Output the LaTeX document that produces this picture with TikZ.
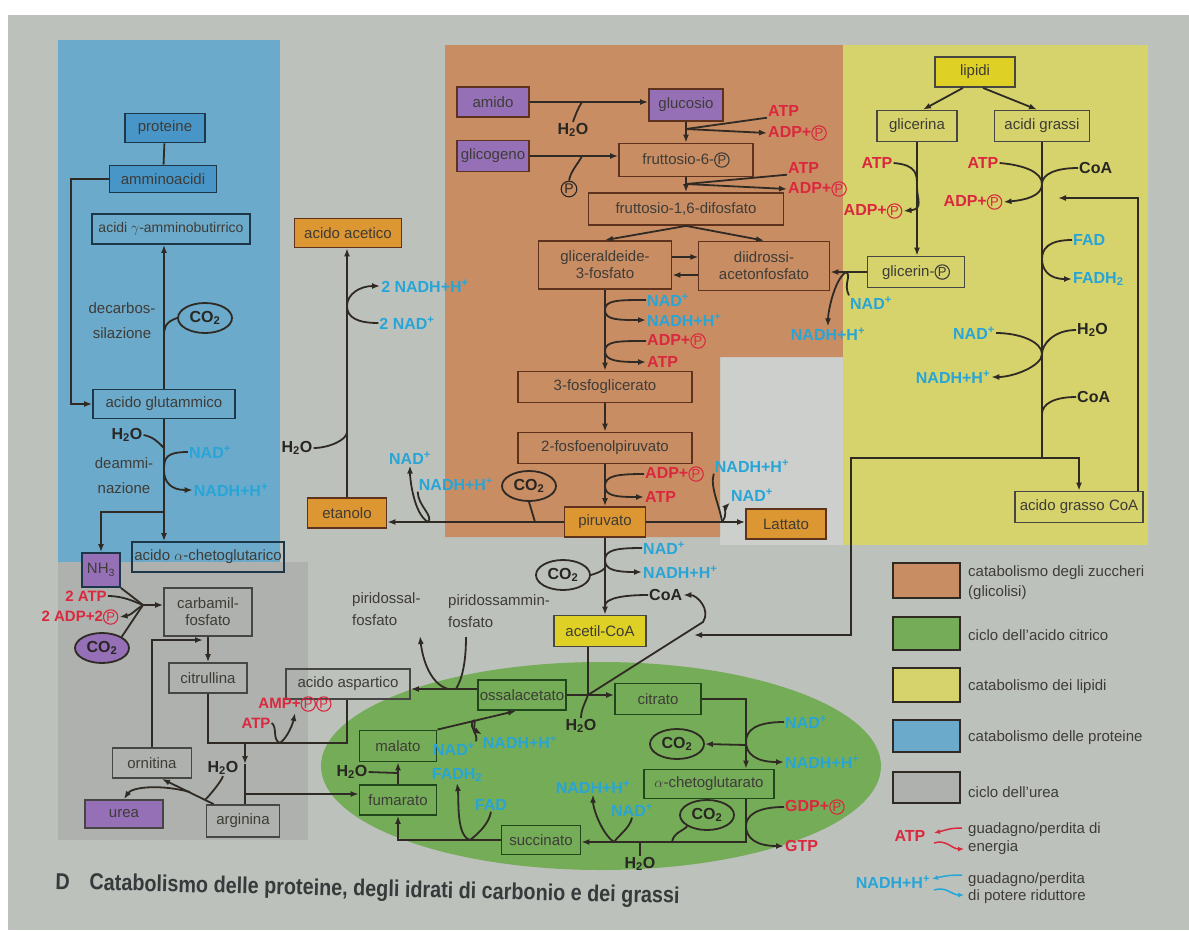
\documentclass[tikz,border=0pt]{standalone}
\usepackage{fontspec}
\setmainfont{Liberation Sans}
\newfontfamily\capfont{Liberation Sans}[FakeStretch=0.86]
\usetikzlibrary{arrows.meta,shapes.geometric,calc}
\definecolor{paper}{RGB}{189,193,188}
\definecolor{paperlt}{RGB}{204,207,203}
\definecolor{bluereg}{RGB}{108,170,203}
\definecolor{bluebox}{RGB}{72,150,200}
\definecolor{orangereg}{RGB}{201,141,100}
\definecolor{orangebox}{RGB}{220,150,50}
\definecolor{yellowreg}{RGB}{214,210,108}
\definecolor{yellowbox}{RGB}{222,208,36}
\definecolor{purplebox}{RGB}{150,112,182}
\definecolor{greenreg}{RGB}{116,172,88}
\definecolor{ureareg}{RGB}{174,177,173}
\definecolor{lc}{RGB}{48,42,36}
\definecolor{atpred}{RGB}{218,40,62}
\definecolor{nadblue}{RGB}{40,165,215}
\definecolor{txtc}{RGB}{62,60,55}
\definecolor{txtk}{RGB}{40,38,34}
\definecolor{cboxO}{RGB}{95,50,30}
\definecolor{cboxB}{RGB}{30,55,72}
\definecolor{cboxG}{RGB}{32,70,28}
\definecolor{cboxU}{RGB}{70,70,68}
\definecolor{captxt}{RGB}{55,58,58}
\newcommand\cP[1][txtc]{\tikz[baseline=(cpn.base)]\node[shape=circle,draw=#1,text=#1,fill=none,line width=1.1pt,inner sep=0.7pt,outer sep=0pt,minimum size=0pt,anchor=center,font=\normalfont\fontsize{13}{13}\selectfont](cpn){P};}
\newcommand\cPbig[1][txtc]{\tikz[baseline=(cpn.base)]\node[shape=circle,draw=#1,text=#1,fill=none,line width=1.1pt,inner sep=0.8pt,outer sep=0pt,minimum size=0pt,anchor=center,font=\normalfont\fontsize{14}{14}\selectfont](cpn){P};}
\tikzset{
 box/.style={draw=cboxO, line width=1.8pt, inner sep=2pt, text=txtc, font=\fontsize{15}{17}\selectfont, minimum height=30pt, align=center},
 bxB/.style={draw=cboxB}, bxG/.style={draw=cboxG}, bxU/.style={draw=cboxU},
 ln/.style={draw=lc, line width=1.8pt},
 arr/.style={ln, -{Latex[length=8pt,width=6pt]}},
 rl/.style={text=atpred, font=\bfseries\fontsize{16}{16}\selectfont, inner sep=1pt},
 bl/.style={text=nadblue, font=\bfseries\fontsize{16}{16}\selectfont, inner sep=1pt},
 kl/.style={text=txtk, font=\bfseries\fontsize{16}{16}\selectfont, inner sep=1pt},
 gl/.style={text=txtc, font=\fontsize{15}{17}\selectfont, inner sep=1pt},
 ell/.style={ellipse, draw=lc, line width=1.8pt, minimum width=54pt, minimum height=30pt, inner sep=0pt, text=txtk, font=\bfseries\fontsize{16}{16}\selectfont},
 lgt/.style={text=txtc, font=\fontsize{15}{17}\selectfont, anchor=west, inner sep=0pt},
}
\begin{document}
\begin{tikzpicture}[x=1pt,y=-1pt]
\useasboundingbox (0,0) rectangle (1189,930);
\fill[white] (0,0) rectangle (1189,930);
\fill[paper] (8,15) rectangle (1189,930);
% regions
\fill[bluereg] (58,40) rectangle (280,562);
\fill[ureareg] (58,562) rectangle (308,840);
\fill[paperlt] (720,357) rectangle (843,545);
\fill[orangereg] (445,45) -- (843,45) -- (843,357) -- (720,357) -- (720,537) -- (445,537) -- cycle;
\fill[yellowreg] (843,45) rectangle (1148,545);
\fill[greenreg] (601,766) ellipse [x radius=280, y radius=104];
% legend swatches
\filldraw[draw=lc,line width=1.5pt,fill=orangereg] (893,563) rectangle (960,598);
\filldraw[draw=lc,line width=1.5pt,fill=greenreg] (893,617) rectangle (960,650);
\filldraw[draw=lc,line width=1.5pt,fill=yellowreg] (893,668) rectangle (960,702);
\filldraw[draw=lc,line width=1.5pt,fill=bluereg] (893,720) rectangle (960,752);
\filldraw[draw=lc,line width=1.5pt,fill=ureareg] (893,772) rectangle (960,803);
\node[lgt] (lg1) at (968,573) {catabolismo degli zuccheri};
\node[lgt] (lg1b) at (968,593) {(glicolisi)};
\node[lgt] (lg2) at (968,635) {ciclo dell'acido citrico};
\node[lgt] (lg3) at (968,687) {catabolismo dei lipidi};
\node[lgt] (lg4) at (968,738) {catabolismo delle proteine};
\node[lgt] (lg5) at (968,792) {ciclo dell'urea};
\node[lgt] (lg6) at (968,830) {guadagno/perdita di};
\node[lgt] (lg6b) at (968,848) {energia};
\node[lgt] (lg7) at (968,880) {guadagno/perdita};
\node[lgt] (lg7b) at (968,897) {di potere riduttore};
\node[rl] (lgatp) at (910,836) {ATP};
\coordinate (lgr1) at (962,828); \coordinate (lgr2) at (934,833);
\coordinate (lgr3) at (934,843); \coordinate (lgr4) at (964,849);
\draw[atpred,line width=1.5pt,-{Latex[length=6pt,width=5pt]}] (lgr1) .. controls +(-12,0) and +(12,-3) .. (lgr2);
\draw[atpred,line width=1.5pt,-{Latex[length=6pt,width=5pt]}] (lgr3) .. controls +(12,-4) and +(-12,0) .. (lgr4);
\node[bl] (lgnad) at (893,882) {NADH+H\textsuperscript{+}};
\coordinate (lgb1) at (962,875); \coordinate (lgb2) at (932,879);
\coordinate (lgb3) at (934,890); \coordinate (lgb4) at (964,895);
\draw[nadblue,line width=1.5pt,-{Latex[length=6pt,width=5pt]}] (lgb1) .. controls +(-12,0) and +(12,-3) .. (lgb2);
\draw[nadblue,line width=1.5pt,-{Latex[length=6pt,width=5pt]}] (lgb3) .. controls +(12,-4) and +(-12,0) .. (lgb4);
% caption
\node[text=captxt,font=\capfont\bfseries\fontsize{23}{23}\selectfont,anchor=west,rotate=-1.3] (capd) at (52,881) {D};
\node[text=captxt,font=\capfont\bfseries\fontsize{23}{23}\selectfont,anchor=west,rotate=-1.3] (cap) at (86,884) {Catabolismo delle proteine, degli idrati di carbonio e dei grassi};

% ===== proteins
\node[box,bxB,fill=bluebox,minimum width=80pt,minimum height=29pt] (prot) at (165,128) {proteine};
\node[box,bxB,fill=bluebox,minimum width=107pt,minimum height=27pt] (amm) at (163,179) {amminoacidi};
\node[box,bxB,minimum width=158pt,font=\fontsize{14}{15}\selectfont] (gaba) at (171,229) {acidi $\gamma$-amminobutirrico};
\node[box,bxB,minimum width=142pt,minimum height=29pt] (glu) at (164,404) {acido glutammico};
\node[box,bxB,minimum width=148pt] (akgp) at (208,557) {acido $\alpha$-chetoglutarico};
\node[box,bxB,fill=purplebox,minimum width=38pt,minimum height=34pt] (nh3) at (101,570) {NH\textsubscript{3}};
\node[ell] (co2a) at (205,318) {CO\textsubscript{2}};
\node[gl] (dc1) at (122,308) {decarbos-};
\node[gl] (dc2) at (122,333) {silazione};
\node[kl] (h2oa) at (127,435) {H\textsubscript{2}O};
\node[gl] (da1) at (124,463) {deammi-};
\node[gl] (da2) at (124,488) {nazione};
\node[bl] (nadp1) at (210,452) {NAD\textsuperscript{+}};
\node[bl] (nadh1) at (231,490) {NADH+H\textsuperscript{+}};
\draw[ln] (prot) -- (amm);
\draw[arr] (amm.west) -- ++(-38,0) |- (glu.west);
\draw[arr] (glu.north) -- (glu.north |- gaba.south);
\coordinate (pa) at (164,336);
\draw[ln] (co2a.west) .. controls +(-12,4) and +(0,-8) .. (pa);
\draw[arr] (glu.south) -- (glu.south |- akgp.north);
\coordinate (jb) at (164,512);
\draw[arr] (jb) -| (nh3.north);
\coordinate (jh) at (164,448);
\draw[ln] (h2oa.east) .. controls +(10,2) and +(-6,-6) .. (jh);
\coordinate (jn1) at (164,470);
\draw[ln] (nadp1.west) .. controls +(-22,0) and +(0,-12) .. (jn1);
\draw[arr] (jn1) .. controls +(0,12) and +(-22,0) .. (nadh1.west);

% ===== fermentation
\node[box,fill=orangebox,minimum width=107pt,minimum height=29pt] (acet) at (348,233) {acido acetico};
\node[box,fill=orangebox,minimum width=79pt] (etan) at (347,513) {etanolo};
\node[box,fill=orangebox,minimum width=80pt] (latt) at (786,524) {Lattato};
\node[box,fill=orangebox,minimum width=81pt] (piru) at (605,522) {piruvato};
\draw[arr] (etan.north) -- (etan.north |- acet.south);
\node[bl] (nadh2) at (425,286) {2 NADH+H\textsuperscript{+}};
\node[bl] (nad2) at (407,323) {2 NAD\textsuperscript{+}};
\coordinate (je) at (347,306);
\draw[ln] (nad2.west) .. controls +(-20,0) and +(0,12) .. (je);
\draw[arr] (je) .. controls +(0,-12) and +(-20,0) .. (nadh2.west);
\node[kl] (h2ob) at (297,448) {H\textsubscript{2}O};
\coordinate (jw) at (347,432);
\draw[ln] (h2ob.east) .. controls +(15,0) and +(0,8) .. (jw);
\draw[arr] (piru.west) -- (piru.west -| etan.east);
\node[ell] (co2b) at (529,486) {CO\textsubscript{2}};
\coordinate (jc) at (535,522);
\draw[ln] (co2b.south) -- (jc);
\node[bl] (nadp3) at (410,458) {NAD\textsuperscript{+}};
\node[bl] (nadh3) at (456,484) {NADH+H\textsuperscript{+}};
\coordinate (jd) at (428,522);
\draw[arr] (jd) .. controls +(-14,-8) and +(0,14) .. (nadp3.south);
\draw[ln] (nadh3.south west) .. controls +(0,14) and +(6,-6) .. (jd);
\draw[arr] (piru.east) -- (piru.east -| latt.west);
\node[bl] (nadh4) at (752,466) {NADH+H\textsuperscript{+}};
\node[bl] (nadp4) at (752,495) {NAD\textsuperscript{+}};
\coordinate (jl) at (722,522);
\draw[ln] (nadh4.south west) .. controls +(-4,14) and +(-2,-16) .. (jl);
\draw[arr] (jl) .. controls +(6,-8) and +(-6,6) .. (nadp4.south west);

% ===== glycolysis
\node[box,fill=purplebox,minimum width=72pt,minimum height=30pt] (amido) at (493,102) {amido};
\node[box,fill=purplebox,minimum width=72pt,minimum height=31pt] (glicog) at (493,156) {glicogeno};
\node[box,fill=purplebox,minimum width=74pt,minimum height=32pt] (gluc) at (686,105) {glucosio};
\node[box,minimum width=134pt,minimum height=33pt] (f6p) at (686,160) {fruttosio-6-\cP};
\node[box,minimum width=195pt,minimum height=32pt] (f16) at (686,209) {fruttosio-1,6-difosfato};
\draw[arr] (amido.east) -- (amido.east -| gluc.west);
\node[kl] (h2oc) at (573,130) {H\textsubscript{2}O};
\coordinate (jg1) at (582,102);
\draw[ln] (h2oc.north) .. controls +(2,-6) and +(-4,6) .. (jg1);
\draw[arr] (glicog.east) -- (glicog.east -| f6p.west);
\node[inner sep=0pt] (pgl) at (569,189) {\cPbig[txtk]};
\coordinate (jg2) at (582,156);
\draw[ln] (pgl.north) .. controls +(2,-10) and +(-4,8) .. (jg2);
\draw[arr] (gluc.south) -- (f6p.north);
\node[rl,anchor=west] (atp1) at (767,111) {ATP};
\node[rl,anchor=west] (adp1) at (767,133) {ADP+\cP[atpred]};
\coordinate (js1) at (686,129);
\draw[ln] (atp1.south west) -- (js1);
\draw[arr] (js1) -- (adp1.west);
\draw[arr] (f6p.south) -- (f16.north);
\node[rl,anchor=west] (atp2) at (787,168) {ATP};
\node[rl,anchor=west] (adp2) at (787,189) {ADP+\cP[atpred]};
\coordinate (js2) at (686,184);
\draw[ln] (atp2.south west) -- (js2);
\draw[arr] (js2) -- (adp2.west);
\node[box,minimum width=133pt,minimum height=48pt] (gap) at (605,265) {gliceraldeide-\\3-fosfato};
\node[box,minimum width=131pt,minimum height=49pt] (dhap) at (764,266) {diidrossi-\\acetonfosfato};
\draw[arr] (f16.south) -- (gap.north);
\draw[arr] (f16.south) -- (dhap.north);
\draw[arr] ($(gap.east)+(0,-8)$) -- ($(gap.east)+(26,-8)$);
\draw[arr] ($(gap.east)+(26,10)$) -- ($(gap.east)+(0,10)$);
\node[box,minimum width=174pt,minimum height=31pt] (pg3) at (605,387) {3-fosfoglicerato};
\node[box,minimum width=174pt,minimum height=31pt] (pep) at (605,448) {2-fosfoenolpiruvato};
\draw[arr] (gap.south) -- (pg3.north);
\node[bl,anchor=west] (nadp5) at (646,300) {NAD\textsuperscript{+}};
\node[bl,anchor=west] (nadh5) at (646,320) {NADH+H\textsuperscript{+}};
\node[rl,anchor=west] (adp5) at (646,341) {ADP+\cP[atpred]};
\node[rl,anchor=west] (atp5) at (646,362) {ATP};
\coordinate (jg3) at (605,310);
\draw[ln] (nadp5.west) .. controls +(-28,0) and +(0,-10) .. (jg3);
\draw[arr] (jg3) .. controls +(0,10) and +(-28,0) .. (nadh5.west);
\coordinate (jg4) at (605,351);
\draw[ln] (adp5.west) .. controls +(-28,0) and +(0,-10) .. (jg4);
\draw[arr] (jg4) .. controls +(0,10) and +(-28,0) .. (atp5.west);
\draw[arr] (pg3.south) -- (pep.north);
\draw[arr] (pep.south) -- (piru.north);
\node[rl,anchor=west] (adp6) at (644,474) {ADP+\cP[atpred]};
\node[rl,anchor=west] (atp6) at (644,497) {ATP};
\coordinate (jg5) at (605,486);
\draw[ln] (adp6.west) .. controls +(-28,0) and +(0,-10) .. (jg5);
\draw[arr] (jg5) .. controls +(0,10) and +(-28,0) .. (atp6.west);

% ===== pyruvate to acetyl-CoA
\node[box,bxU,fill=yellowbox,minimum width=92pt,minimum height=31pt] (acoa) at (600,631) {acetil-CoA};
\draw[arr] (piru.south) -- (piru.south |- acoa.north);
\node[bl,anchor=west] (nadp6) at (642,548) {NAD\textsuperscript{+}};
\node[bl,anchor=west] (nadh6) at (642,572) {NADH+H\textsuperscript{+}};
\coordinate (jp1) at (605,560);
\draw[ln] (nadp6.west) .. controls +(-26,0) and +(0,-10) .. (jp1);
\draw[arr] (jp1) .. controls +(0,10) and +(-26,0) .. (nadh6.west);
\node[ell] (co2c) at (563,575) {CO\textsubscript{2}};
\coordinate (jp2) at (605,568);
\draw[ln] (co2c.east) .. controls +(6,-2) and +(-4,4) .. (jp2);
\node[kl,anchor=west] (coa1) at (648,595) {CoA};
\coordinate (jp3) at (605,606);
\draw[ln] (coa1.west) .. controls +(-24,0) and +(0,-8) .. (jp3);

% ===== lipids
\node[box,bxU,fill=yellowbox,minimum width=80pt,minimum height=30pt] (lip) at (975,72) {lipidi};
\node[box,bxU,minimum width=80pt,minimum height=31pt] (glic) at (917,126) {glicerina};
\node[box,bxU,minimum width=95pt,minimum height=31pt] (agr) at (1042,126) {acidi grassi};
\node[box,bxU,minimum width=97pt,minimum height=31pt] (glp) at (916,272) {glicerin-\cP};
\node[box,bxU,minimum width=128pt,minimum height=31pt] (agcoa) at (1079,507) {acido grasso CoA};
\draw[arr] ($(lip.south)+(-12,0)$) -- ($(glic.north)+(6,0)$);
\draw[arr] ($(lip.south)+(8,0)$) -- ($(agr.north)+(-5,0)$);
\draw[arr] (glic.south) -- (glic.south |- glp.north);
\node[rl] (atp7) at (877,163) {ATP};
\node[rl] (adp7) at (873,211) {ADP+\cP[atpred]};
\coordinate (jq1) at (917,187);
\draw[ln] (atp7.east) .. controls +(24,2) and +(0,-12) .. (jq1);
\draw[arr] (jq1) .. controls +(0,12) and +(20,-2) .. (adp7.east);
\draw[arr] (glp.west) -- (glp.west -| dhap.east);
\node[bl] (nadp8) at (871,303) {NAD\textsuperscript{+}};
\node[bl] (nadh8) at (828,334) {NADH+H\textsuperscript{+}};
\coordinate (jq2) at (846,272);
\draw[ln] (nadp8.north west) .. controls +(-6,-12) and +(6,4) .. (jq2);
\draw[arr] (jq2) .. controls +(-12,8) and +(0,-14) .. (nadh8.north);
\coordinate (jr0) at (1042,458);
\coordinate (jl1) at (851,458);
\coordinate (jla) at (694,635);
\draw[ln] (agr.south) -- (jr0);
\draw[arr] (jr0) -| (agcoa.north);
\draw[arr] (jr0) -- (jl1) |- (jla);
\node[rl] (atp9) at (983,163) {ATP};
\node[kl,anchor=west] (coa9) at (1078,168) {CoA};
\node[rl] (adp9) at (973,202) {ADP+\cP[atpred]};
\coordinate (jq3) at (1042,184);
\draw[ln] (atp9.east) .. controls +(24,2) and +(0,-12) .. (jq3);
\draw[arr] (jq3) .. controls +(0,12) and +(22,-2) .. (adp9.east);
\draw[ln] (coa9.west) .. controls +(-22,0) and +(0,-10) .. (jq3);
\node[bl,anchor=west] (fad) at (1072,240) {FAD};
\node[bl,anchor=west] (fadh) at (1072,279) {FADH\textsubscript{2}};
\coordinate (jq4) at (1042,259);
\draw[ln] (fad.west) .. controls +(-24,0) and +(0,-10) .. (jq4);
\draw[arr] (jq4) .. controls +(0,10) and +(-24,0) .. (fadh.west);
\node[bl] (nadp9) at (974,333) {NAD\textsuperscript{+}};
\node[kl,anchor=west] (h2o9) at (1076,330) {H\textsubscript{2}O};
\node[bl] (nadh9) at (953,377) {NADH+H\textsuperscript{+}};
\node[kl,anchor=west] (coa10) at (1076,397) {CoA};
\coordinate (jq5) at (1042,354);
\draw[ln] (nadp9.east) .. controls +(24,0) and +(0,-12) .. (jq5);
\draw[arr] (jq5) .. controls +(0,12) and +(22,0) .. (nadh9.east);
\draw[ln] (h2o9.west) .. controls +(-22,0) and +(0,-10) .. (jq5);
\coordinate (jq6) at (1042,414);
\draw[ln] (coa10.west) .. controls +(-22,0) and +(0,-10) .. (jq6);
\coordinate (jr3) at (1058,198);
\draw[arr] ($(agcoa.north east)+(-6,0)$) |- (jr3);

% ===== citric acid cycle
\node[box,bxG,minimum width=82pt,minimum height=30pt] (oaa) at (522,695) {ossalacetato};
\node[box,bxG,minimum width=86pt,minimum height=31pt] (cit) at (658,699) {citrato};
\node[box,bxG,minimum width=77pt,minimum height=31pt] (mal) at (398,746) {malato};
\node[box,bxG,minimum width=77pt,minimum height=30pt] (fum) at (398,800) {fumarato};
\node[box,bxG,minimum width=79pt,minimum height=29pt] (succ) at (541,840) {succinato};
\node[box,bxG,minimum width=130pt,minimum height=29pt] (akg) at (709,784) {$\alpha$-chetoglutarato};
\node[box,bxU,minimum width=124pt,minimum height=30pt] (asp) at (348,684) {acido aspartico};
\coordinate (jcs) at (588,695);
\draw[ln] (jcs |- acoa.south) -- (jcs);
\draw[arr] (oaa.east) -- (oaa.east -| cit.west);
\coordinate (jcb) at (703,622);
\draw[arr] (jcs) -- (jcb) .. controls +(8,-12) and +(14,0) .. (coa1.east);
\node[kl] (h2o11) at (581,726) {H\textsubscript{2}O};
\draw[ln] (h2o11.north) .. controls +(0,-8) and +(-3,8) .. (jcs);
\coordinate (jt1) at (746,699);
\draw[arr] (cit.east) -- (jt1) -- (jt1 |- akg.north);
\node[bl,anchor=west] (nadp11) at (784,722) {NAD\textsuperscript{+}};
\node[bl,anchor=west] (nadh11) at (784,762) {NADH+H\textsuperscript{+}};
\coordinate (jt2) at (746,742);
\draw[ln] (nadp11.west) .. controls +(-28,0) and +(0,-12) .. (jt2);
\draw[arr] (jt2) .. controls +(0,12) and +(-28,0) .. (nadh11.west);
\node[ell] (co2d) at (677,744) {CO\textsubscript{2}};
\coordinate (jt3) at (746,745);
\draw[arr] (jt3) -- (co2d.east);
\coordinate (jt4) at (746,842);
\draw[arr] (akg.south -| jt4) -- (jt4) -- (jt4 -| succ.east);
\node[rl,anchor=west] (gdp) at (784,807) {GDP+\cP[atpred]};
\node[rl,anchor=west] (gtp) at (784,846) {GTP};
\coordinate (jt5) at (746,826);
\draw[ln] (gdp.west) .. controls +(-28,0) and +(0,-10) .. (jt5);
\draw[arr] (jt5) .. controls +(0,12) and +(-28,0) .. (gtp.west);
\node[ell] (co2e) at (707,815) {CO\textsubscript{2}};
\coordinate (jt6) at (672,842);
\draw[ln] (jt6) .. controls +(2,-10) and +(-6,6) .. (co2e.south west);
\node[bl] (nadh12) at (593,787) {NADH+H\textsuperscript{+}};
\node[bl] (nadp12) at (632,810) {NAD\textsuperscript{+}};
\coordinate (jt7) at (614,842);
\draw[arr] (jt7) .. controls +(-12,-8) and +(0,14) .. (nadh12.south);
\draw[ln] (nadp12.south) .. controls +(-2,10) and +(6,-8) .. (jt7);
\node[kl] (h2o12) at (640,864) {H\textsubscript{2}O};
\coordinate (jt8) at (640,842);
\draw[ln] (jt8) -- (h2o12.north);
\coordinate (jt9) at (398,840);
\draw[arr] (succ.west) -- (jt9) -- (fum.south);
\node[bl] (fadh12) at (457,775) {FADH\textsubscript{2}};
\node[bl] (fad12) at (491,805) {FAD};
\coordinate (jt10) at (470,840);
\draw[arr] (jt10) .. controls +(-14,-4) and +(2,16) .. (fadh12.south);
\draw[ln] (fad12.south) .. controls +(-2,12) and +(8,-6) .. (jt10);
\draw[arr] (fum.north) -- (mal.south);
\node[kl] (h2o13) at (352,772) {H\textsubscript{2}O};
\coordinate (jt11) at (398,773);
\draw[ln] (h2o13.east) -- (jt11);
\draw[arr] (mal.north east) -- ($(oaa.south)+(-6,0)$);
\node[bl] (nadp13) at (454,749) {NAD\textsuperscript{+}};
\node[bl] (nadh13) at (520,742) {NADH+H\textsuperscript{+}};
\coordinate (jt12) at (472,722);
\draw[ln] (nadp13.north east) .. controls +(2,-8) and +(-2,6) .. (jt12);
\draw[arr] (jt12) .. controls +(6,-6) and +(-10,-6) .. (nadh13.north west);
\coordinate (ja1) at ($(oaa.west)+(0,-6)$);
\draw[arr] (ja1) -- (ja1 -| asp.east);
\node[gl,anchor=north west,align=left,font=\fontsize{15}{22}\selectfont] (pal) at (351,591) {piridossal-\\fosfato};
\node[gl,anchor=north west,align=left,font=\fontsize{15}{22}\selectfont] (pam) at (447,593) {piridossammin-\\fosfato};
\coordinate (ja2) at (448,689);
\coordinate (ja3) at (456,689);
\coordinate (ja4) at (420,636);
\coordinate (ja5) at (466,637);
\draw[arr] (ja2) .. controls +(-20,-6) and +(2,18) .. (ja4);
\draw[ln] (ja5) .. controls +(0,26) and +(6,-10) .. (ja3);

% ===== urea cycle
\node[box,bxU,minimum width=88pt,minimum height=48pt] (carb) at (208,612) {carbamil-\\fosfato};
\node[box,bxU,minimum width=78pt] (citr) at (208,678) {citrullina};
\node[box,bxU,minimum width=79pt] (orn) at (152,763) {ornitina};
\node[box,bxU,fill=purplebox,minimum width=78pt,minimum height=28pt] (urea) at (124,814) {urea};
\node[box,bxU,minimum width=73pt,minimum height=32pt] (arg) at (243,821) {arginina};
\node[ell,fill=purplebox] (co2u) at (102,648) {CO\textsubscript{2}};
\node[rl,font=\bfseries\fontsize{15}{15}\selectfont] (atpu) at (86,596) {2 ATP};
\node[rl,font=\bfseries\fontsize{15}{15}\selectfont] (adpu) at (80,617) {2 ADP+2\cP[atpred]};
\coordinate (ju1) at (143,605);
\draw[ln] (nh3.south east) -- (ju1);
\draw[ln] (atpu.east) .. controls +(16,0) and +(-8,-3) .. (ju1);
\draw[arr] (ju1) .. controls +(-8,5) and +(12,-2) .. (adpu.east);
\draw[ln] (co2u.north east) -- (ju1);
\draw[arr] (ju1) -- (ju1 -| carb.west);
\draw[arr] (carb.south) -- (citr.north);
\coordinate (ju2) at (203,640);
\draw[arr] (orn.north) |- (ju2);
\coordinate (ju3) at (208,743);
\coordinate (ju4) at (347,743);
\draw[ln] (citr.south) -- (ju3) -- (ju4) -- (ju4 |- asp.south);
\node[rl,font=\bfseries\fontsize{15}{15}\selectfont] (ampu) at (295,704) {AMP+\cP[atpred]\cP[atpred]};
\node[rl,font=\bfseries\fontsize{15}{15}\selectfont] (atpw) at (256,723) {ATP};
\coordinate (ju5) at (280,743);
\draw[arr] (ju5) .. controls +(8,-6) and +(-2,10) .. (ampu.south);
\draw[ln] (atpw.east) .. controls +(6,4) and +(-8,-3) .. (ju5);
\coordinate (ju6) at (245,743);
\coordinate (ju7) at (245,764);
\draw[arr] (ju6) -- (ju7);
\draw[ln] (ju7) -- (ju7 |- arg.north);
\coordinate (ju8) at (245,794);
\draw[arr] (ju8) -- (ju8 -| fum.west);
\node[kl] (h2ou) at (223,768) {H\textsubscript{2}O};
\draw[arr] ($(arg.north west)+(8,0)$) -- ($(orn.south)+(10,0)$);
\coordinate (ju9) at (190,792);
\draw[arr] (ju9) .. controls +(-30,-8) and +(8,-12) .. (urea.north);
\coordinate (ju10) at (205,800);
\draw[ln] (h2ou.south) .. controls +(-2,6) and +(4,-4) .. (ju10);
\end{tikzpicture}
\end{document}
